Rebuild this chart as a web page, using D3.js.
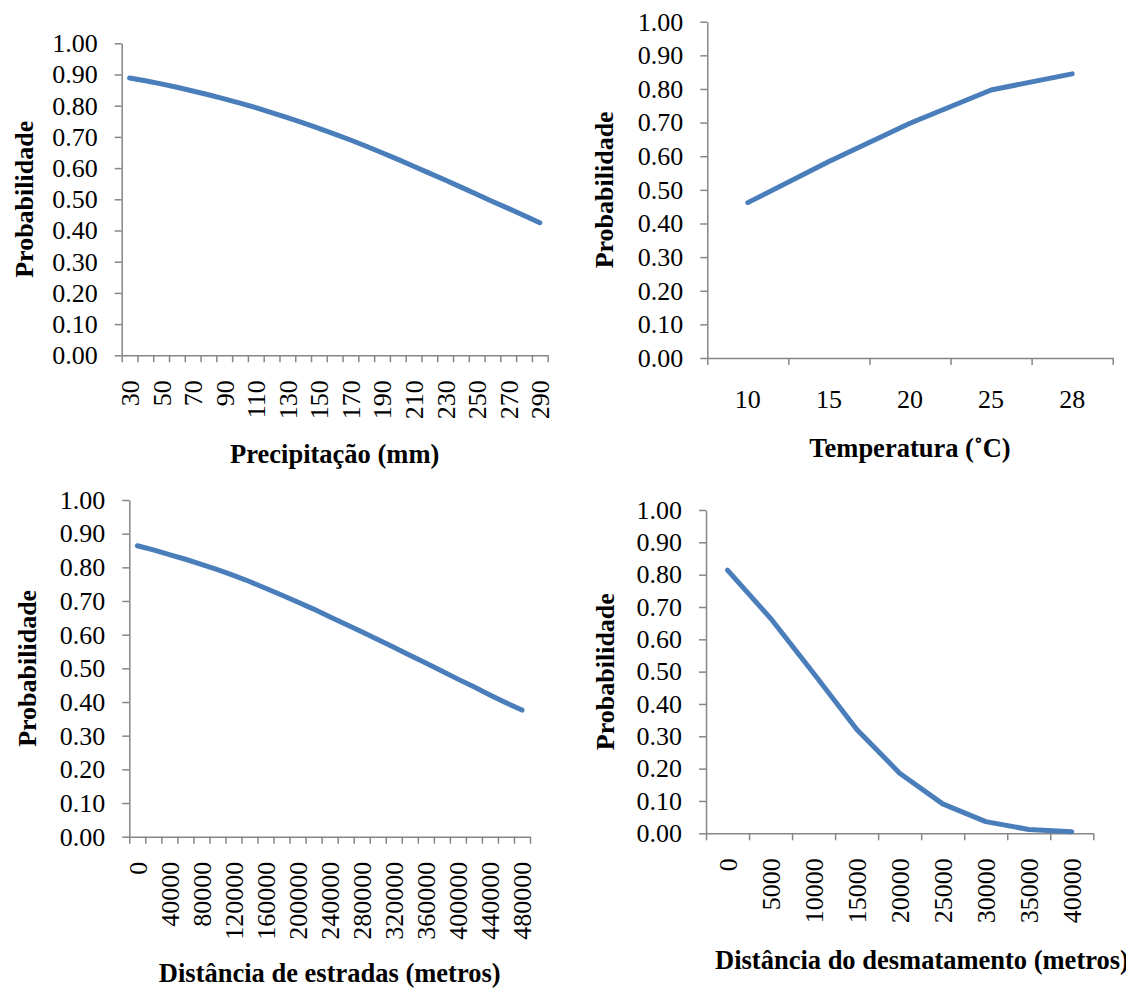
<!DOCTYPE html>
<html>
<head>
<meta charset="utf-8">
<script src="https://cdn.jsdelivr.net/npm/d3@7"></script>
<style>
  body { margin: 0; background: #fff; }
  svg { display: block; }
</style>
</head>
<body>
<script>
// data
var precipCats = [30, 40, 50, 60, 70, 80, 90, 100, 110, 120, 130, 140, 150, 160, 170,
                  180, 190, 200, 210, 220, 230, 240, 250, 260, 270, 280, 290];
var precipProb = [0.889, 0.880, 0.870, 0.859, 0.847, 0.835, 0.822, 0.808, 0.794, 0.778,
                  0.762, 0.745, 0.727, 0.709, 0.690, 0.670, 0.649, 0.628, 0.606, 0.584,
                  0.562, 0.539, 0.516, 0.493, 0.471, 0.448, 0.425];

var tempCats = [10, 15, 20, 25, 28];
var tempProb = [0.462, 0.584, 0.698, 0.797, 0.845];

var roadCats = [0, 20000, 40000, 60000, 80000, 100000, 120000, 140000, 160000, 180000,
                200000, 220000, 240000, 260000, 280000, 300000, 320000, 340000, 360000,
                380000, 400000, 420000, 440000, 460000, 480000];
var roadProb = [0.864, 0.852, 0.838, 0.824, 0.809, 0.793, 0.776, 0.758, 0.738, 0.718,
                0.697, 0.676, 0.653, 0.631, 0.609, 0.586, 0.563, 0.539, 0.516, 0.492,
                0.468, 0.445, 0.421, 0.398, 0.376];

var deforCats = [0, 5000, 10000, 15000, 20000, 25000, 30000, 35000, 40000];
var deforProb = [0.814, 0.665, 0.495, 0.322, 0.186, 0.091, 0.036, 0.012, 0.005];

var yTicks = [0, 0.1, 0.2, 0.3, 0.4, 0.5, 0.6, 0.7, 0.8, 0.9, 1.0];

var serif = "'Liberation Serif', 'Times New Roman', serif";
var axisGrey = "#868686";

var svg = d3.select("body").append("svg")
    .attr("width", 1126)
    .attr("height", 989);

function styleAxis(g) {
  g.selectAll("path, line").style("stroke", axisGrey).style("stroke-width", "1.5px");
  g.selectAll("text").style("font-family", serif).style("font-size", "26px").style("fill", "#000");
}

// one small excel-style line chart
function drawPanel(cfg) {
  var n = cfg.cats.length;
  var band = d3.scaleBand().domain(cfg.cats).range([cfg.x0, cfg.x1]).padding(0);
  var edges = d3.scaleLinear().domain([0, n]).range([cfg.x0, cfg.x1]);
  var y = d3.scaleLinear().domain([0, 1]).range([cfg.yBot, cfg.yTop]);

  // y axis
  svg.append("g")
      .attr("transform", "translate(" + cfg.x0 + ",0)")
      .call(d3.axisLeft(y).tickValues(yTicks).tickFormat(d3.format(".2f"))
            .tickSize(7).tickSizeOuter(0).tickPadding(17))
      .call(styleAxis);

  // x axis: tick marks between categories
  svg.append("g")
      .attr("transform", "translate(0," + cfg.yBot + ")")
      .call(d3.axisBottom(edges).tickValues(d3.range(n + 1)).tickFormat("")
            .tickSize(7).tickSizeOuter(0))
      .call(styleAxis);

  // x labels
  var lab = svg.append("g")
      .attr("transform", "translate(0," + cfg.yBot + ")")
      .call(d3.axisBottom(band).tickSize(0).tickPadding(cfg.rotate ? 0 : 32)
            .tickFormat(function(d, i) { return i % cfg.every ? "" : d; }))
      .call(styleAxis);
  lab.select(".domain").remove();
  if (cfg.rotate) {
    lab.selectAll("text")
        .attr("transform", "rotate(-90)")
        .attr("text-anchor", "end")
        .attr("x", -25)
        .attr("y", 0)
        .attr("dy", "0.36em");
  }

  // the curve
  var pts = cfg.cats.map(function(c, i) { return [c, cfg.vals[i]]; });
  var line = d3.line()
      .x(function(d) { return band(d[0]) + band.bandwidth() / 2; })
      .y(function(d) { return y(d[1]); });
  svg.append("path")
      .datum(pts)
      .attr("d", line)
      .attr("fill", "none")
      .attr("stroke", "#4A7EBB")
      .attr("stroke-width", 5)
      .attr("stroke-linecap", "round")
      .attr("stroke-linejoin", "round");

  // axis titles
  svg.append("text")
      .attr("transform", "translate(" + cfg.ylabX + "," + ((cfg.yTop + cfg.yBot) / 2) + ") rotate(-90)")
      .attr("text-anchor", "middle")
      .style("font-family", serif)
      .style("font-size", "26px")
      .style("font-weight", "bold")
      .text("Probabilidade");

  svg.append("text")
      .attr("x", cfg.titleX)
      .attr("y", cfg.titleY)
      .attr("text-anchor", cfg.titleAnchor)
      .style("font-family", serif)
      .style("font-size", "26.5px")
      .style("font-weight", "bold")
      .text(cfg.title);
}

drawPanel({cats: precipCats, vals: precipProb, every: 2, rotate: true,
           x0: 121.7, x1: 547.7, yTop: 43.3, yBot: 355.3, ylabX: 33,
           title: "Precipitação (mm)", titleX: 334.7, titleY: 463, titleAnchor: "middle"});

drawPanel({cats: tempCats, vals: tempProb, every: 1, rotate: false,
           x0: 707.3, x1: 1112.7, yTop: 21.7, yBot: 358, ylabX: 613,
           title: "Temperatura (˚C)", titleX: 910, titleY: 457, titleAnchor: "middle"});

drawPanel({cats: roadCats, vals: roadProb, every: 2, rotate: true,
           x0: 129.3, x1: 530, yTop: 500, yBot: 836.7, ylabX: 36,
           title: "Distância de estradas (metros)", titleX: 329.7, titleY: 982, titleAnchor: "middle"});

drawPanel({cats: deforCats, vals: deforProb, every: 1, rotate: true,
           x0: 706, x1: 1093.3, yTop: 510, yBot: 833.3, ylabX: 614,
           title: "Distância do desmatamento (metros)", titleX: 715, titleY: 969, titleAnchor: "start"});
</script>
</body>
</html>
